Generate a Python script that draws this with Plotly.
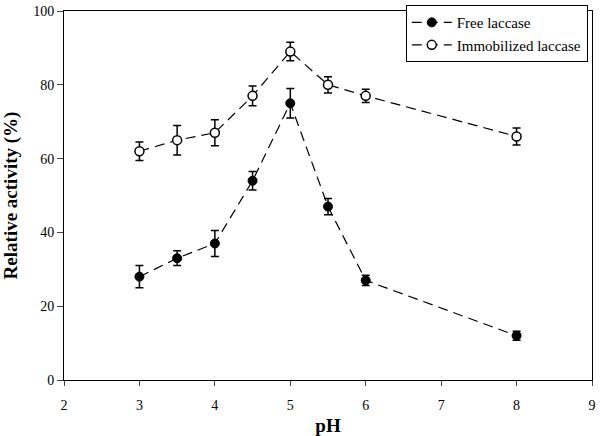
import plotly.graph_objects as go

ph = [3, 3.5, 4, 4.5, 5, 5.5, 6, 8]
free_act = [28, 33, 37, 54, 75, 47, 27, 12]
free_err = [3, 2, 3.5, 2.5, 4, 2.2, 1.4, 1.2]
immob_act = [62, 65, 67, 77, 89, 80, 77, 66]
immob_err = [2.5, 4, 3.5, 2.7, 2.5, 2.2, 1.8, 2.3]

x_ticks = [2, 3, 4, 5, 6, 7, 8, 9]
y_ticks = [0, 20, 40, 60, 80, 100]

font_family = "Liberation Serif"

fig = go.Figure()
fig.add_trace(go.Scatter(
    x=ph, y=free_act, name="Free laccase", mode="lines+markers",
    line=dict(color="black", width=1.2, dash="10px,6px"),
    marker=dict(symbol="circle", size=9, color="black", line=dict(color="black", width=1)),
    error_y=dict(type="data", array=free_err, visible=True, color="black", thickness=1.5, width=4),
))
fig.add_trace(go.Scatter(
    x=ph, y=immob_act, name="Immobilized laccase", mode="lines+markers",
    line=dict(color="black", width=1.2, dash="10px,6px"),
    marker=dict(symbol="circle", size=9, color="white", line=dict(color="black", width=1.5)),
    error_y=dict(type="data", array=immob_err, visible=True, color="black", thickness=1.5, width=4),
))

fig.update_layout(
    width=600, height=436,
    margin=dict(l=64, r=4, t=8, b=55),
    paper_bgcolor="white", plot_bgcolor="white",
    font=dict(family=font_family, size=14, color="black"),
    showlegend=True,
    legend=dict(
        x=0.992, y=1.016, xanchor="right", yanchor="top",
        bordercolor="black", borderwidth=1, bgcolor="white",
        font=dict(family=font_family, size=15, color="black"),
        tracegroupgap=0, itemwidth=40,
    ),
    xaxis=dict(
        range=[2, 9], tickvals=x_ticks, ticks="outside", ticklen=5, tickwidth=1,
        ticklabelstandoff=7,
        showline=True, linecolor="black", linewidth=1, mirror=True,
        showgrid=False, zeroline=False,
        title=dict(text="<b>pH</b>", font=dict(family=font_family, size=19), standoff=6),
    ),
    yaxis=dict(
        range=[0, 100], tickvals=y_ticks, ticks="outside", ticklen=6, tickwidth=1,
        showline=True, linecolor="black", linewidth=1, mirror=True,
        showgrid=False, zeroline=False,
        title=dict(text="<b>Relative activity (%)</b>", font=dict(family=font_family, size=19), standoff=12),
    ),
)

fig.write_html("out.html", config={"displayModeBar": False},
               post_script="document.body.style.margin='0';")
